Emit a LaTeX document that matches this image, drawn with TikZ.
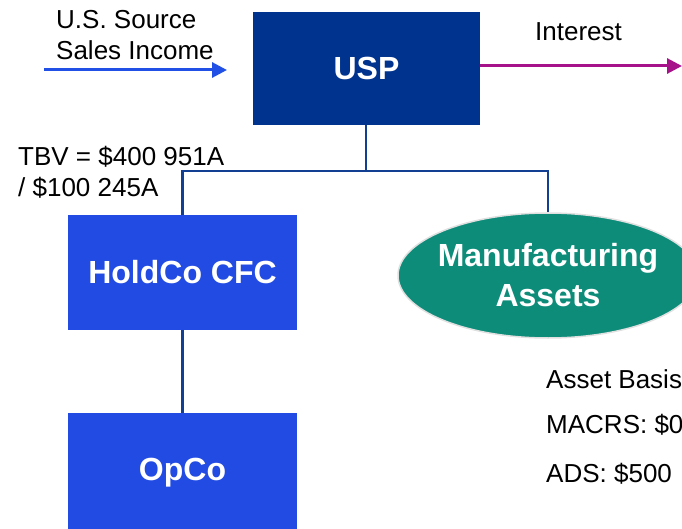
\documentclass[tikz,border=0pt]{standalone}
\usepackage{fontspec}
\setmainfont{Liberation Sans}
\usetikzlibrary{arrows.meta,shapes.geometric}
\definecolor{uspblue}{HTML}{00338D}
\definecolor{entblue}{HTML}{214BE3}
\definecolor{linkblue}{HTML}{123F92}
\definecolor{flowblue}{HTML}{2150E6}
\definecolor{flowmag}{HTML}{A6128A}
\definecolor{assetteal}{HTML}{0E8C7A}
\tikzset{
  entity/.style={rectangle, inner sep=0pt, text=white,
    font=\fontsize{32}{40}\selectfont\bfseries, align=center},
  link/.style={draw=linkblue, line width=2.5pt},
  flow/.style={line width=3pt, -{Triangle[length=15pt,width=15pt]}},
  note/.style={font=\fontsize{26}{31}\selectfont, text=black, inner sep=0pt, anchor=west, align=left}
}
\begin{document}
\begin{tikzpicture}[x=1pt,y=-1pt]
\useasboundingbox (0,0) rectangle (682,529);

% entities
\node[entity, fill=uspblue, minimum width=227pt, minimum height=113pt] (usp) at (366.5,68.5) {USP};
\node[entity, fill=entblue, minimum width=229pt, minimum height=115pt] (holdco) at (182.5,272.5) {HoldCo CFC};
\node[entity, fill=entblue, minimum width=229pt, minimum height=120pt] (opco) at (182.5,473) {OpCo};
\node[entity, ellipse, fill=assetteal, draw=black!12, line width=1.5pt,
      inner xsep=-25pt, inner ysep=0pt,
      minimum width=300pt, minimum height=125pt] (assets) at (548,275.5) {Manufacturing\\Assets};

% ownership lines
\coordinate (split) at (366,171);
\draw[link] (usp.south -| split) -- (split);
\draw[link] (holdco.north) |- (split) -| (assets.north);
\draw[link] (holdco.south) -- (opco.north);

% flows
\coordinate (srcstart) at (44,70);
\coordinate (srcend) at (227,70);
\draw[flow, draw=flowblue, fill=flowblue] (srcstart) -- (srcend);
\coordinate (intend) at (682,66);
\draw[flow, draw=flowmag, fill=flowmag] (usp.east |- intend) -- (intend);

% labels
\node[note] (srclbl) at (56,35) {U.S. Source\\Sales Income};
\node[note] (intlbl) at (535,32) {Interest};
\node[note] (tbv) at (18,172) {TBV = \$400 951A\\/ \$100 245A};
\node[note] (basis) at (546,379) {Asset Basis};
\node[note] (macrs) at (546,425) {MACRS: \$0};
\node[note] (ads) at (546,474) {ADS: \$500};
\end{tikzpicture}
\end{document}
